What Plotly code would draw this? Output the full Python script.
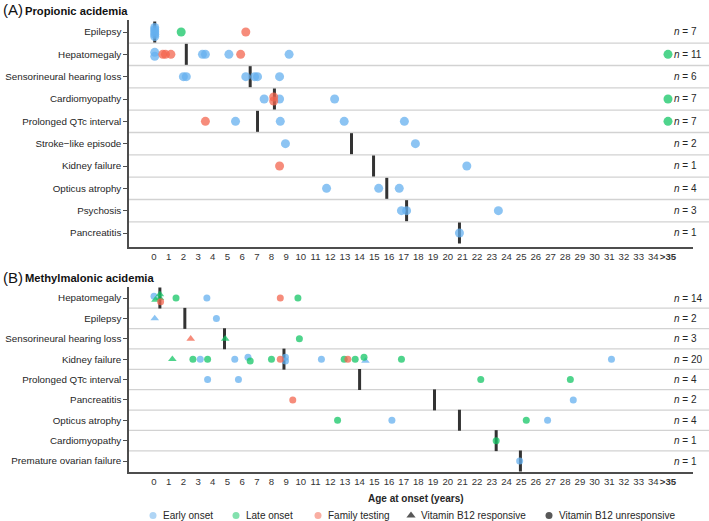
import plotly.graph_objects as go
import pandas as pd

# ---------------- DATA ----------------
x_ticks = list(range(36))
x_ticktext = [str(i) for i in range(35)] + ["<b>&gt;35</b>"]

pa_categories = ["Epilepsy", "Hepatomegaly", "Sensorineural hearing loss", "Cardiomyopathy",
                 "Prolonged QTc interval", "Stroke\u2212like episode", "Kidney failure",
                 "Opticus atrophy", "Psychosis", "Pancreatitis"]
pa_n = [7, 11, 6, 7, 7, 2, 1, 4, 3, 1]
pa_median = [0.05, 2.2, 6.55, 8.2, 7.05, 13.45, 14.95, 15.85, 17.2, 20.8]

pa_early_cat = (["Epilepsy"] * 5 + ["Hepatomegaly"] * 6 + ["Sensorineural hearing loss"] * 6 +
                ["Cardiomyopathy"] * 3 + ["Prolonged QTc interval"] * 4 + ["Stroke\u2212like episode"] * 2 +
                ["Kidney failure"] + ["Opticus atrophy"] * 3 + ["Psychosis"] * 3 + ["Pancreatitis"])
pa_early_age = [0.05, 0.05, 0.05, 0.05, 0.05,
                0.05, 0.05, 3.3, 3.5, 5.1, 9.2,
                2.0, 2.2, 6.25, 6.85, 7.05, 8.55,
                7.5, 8.55, 12.3,
                5.55, 8.6, 12.95, 17.05,
                8.95, 17.8,
                21.3,
                11.75, 15.3, 16.7,
                16.85, 17.2, 23.45,
                20.8]
pa_late_cat = ["Epilepsy", "Hepatomegaly", "Cardiomyopathy", "Prolonged QTc interval"]
pa_late_age = [1.85, 35, 35, 35]
pa_family_cat = ["Epilepsy", "Hepatomegaly", "Hepatomegaly", "Hepatomegaly", "Hepatomegaly",
                 "Cardiomyopathy", "Cardiomyopathy", "Prolonged QTc interval", "Kidney failure"]
pa_family_age = [6.25, 0.6, 0.78, 1.15, 5.9, 8.15, 8.15, 3.5, 8.55]

mma_categories = ["Hepatomegaly", "Epilepsy", "Sensorineural hearing loss", "Kidney failure",
                  "Prolonged QTc interval", "Pancreatitis", "Opticus atrophy", "Cardiomyopathy",
                  "Premature ovarian failure"]
mma_n = [14, 2, 3, 20, 4, 2, 4, 1, 1]
mma_median = [0.4, 2.1, 4.8, 8.85, 14.0, 19.1, 20.8, 23.3, 24.95]

mma_early_cat = ["Hepatomegaly", "Hepatomegaly", "Epilepsy", "Epilepsy"] + ["Kidney failure"] * 8 + \
                ["Prolonged QTc interval"] * 2 + ["Pancreatitis"] + ["Opticus atrophy"] * 2 + \
                ["Premature ovarian failure"]
mma_early_age = [0.0, 3.6, 0.05, 4.25,
                 3.15, 5.5, 6.4, 8.95, 8.95, 11.4, 14.4, 31.15,
                 3.65, 5.75, 28.55, 16.2, 26.8, 24.9]
mma_early_b12 = ["U", "U", "R", "U",
                 "U", "U", "U", "U", "U", "U", "R", "U",
                 "U", "U", "U", "U", "U", "U"]

mma_late_cat = ["Hepatomegaly"] * 5 + ["Sensorineural hearing loss"] * 2 + ["Kidney failure"] * 9 + \
               ["Prolonged QTc interval"] * 2 + ["Opticus atrophy"] * 2 + ["Cardiomyopathy"]
mma_late_age = [0.1, 0.4, 0.4, 1.5, 9.8,
                4.85, 9.9,
                1.25, 2.65, 3.65, 6.55, 8.0, 12.95, 13.7, 14.3, 16.85,
                22.25, 28.35, 12.5, 25.35, 23.3]
mma_late_b12 = ["R", "R", "R", "U", "U",
                "R", "U",
                "R", "U", "U", "U", "U", "U", "U", "U", "U",
                "U", "U", "U", "U", "U"]

mma_family_cat = ["Hepatomegaly", "Hepatomegaly", "Sensorineural hearing loss",
                  "Kidney failure", "Kidney failure", "Pancreatitis"]
mma_family_age = [0.45, 8.6, 2.5, 8.6, 13.2, 9.45]
mma_family_b12 = ["U", "U", "R", "U", "U", "U"]

legend_labels = ["Early onset", "Late onset", "Family testing",
                 "Vitamin B12 responsive", "Vitamin B12 unresponsive"]

# ---------------- STYLE ----------------
W, H = 709, 521
FONT = "Liberation Sans, Arial, sans-serif"
TXT = "#262626"
AXC = "#4d4d4d"
COL = {"early": "#66B0EF", "late": "#14C666", "family": "#F3664F"}
COL_LEG = {"early": "#8DC3F1", "late": "#4FD48C", "family": "#F68C7B"}
OPA = 0.75

X_LEFT, X_RIGHT, X0_PX, X35_PX = 129, 693, 154, 668
ux = (X35_PX - X0_PX) / 35.0
x_range = [-(X0_PX - X_LEFT) / ux, 35 + (X_RIGHT - X35_PX) / ux]

panels = {
    "A": dict(top=20, bottom=247, r0=32, r1=233),
    "B": dict(top=287, bottom=472, r0=298, r1=461),
}


def py(p):
    return 1 - p / H


def yr(panel, ncat):
    p = panels[panel]
    uy = (p["r1"] - p["r0"]) / (ncat - 1)
    return [ncat - 1 + (p["bottom"] - p["r1"]) / uy, -(p["r0"] - p["top"]) / uy]


def jitter(df, thr=0.16, maxspread=0.4, step=0.18):
    df = df.copy()
    df["off"] = 0.0
    for _, g in df.groupby("row"):
        g = g.sort_values("age", kind="stable")
        idx = list(g.index)
        ages = list(g["age"])
        groups, cur = [], [idx[0]]
        for k in range(1, len(idx)):
            if ages[k] - ages[k - 1] < thr:
                cur.append(idx[k])
            else:
                groups.append(cur)
                cur = [idx[k]]
        groups.append(cur)
        for grp in groups:
            kk = len(grp)
            if kk > 1:
                s = min(step, maxspread / (kk - 1))
                for j, i in enumerate(grp):
                    df.loc[i, "off"] = (j - (kk - 1) / 2) * s
    df["y"] = df["row"] + df["off"]
    return df


def build(cats, series):
    frames = []
    for grp, (c, a, b) in series.items():
        frames.append(pd.DataFrame({"row": [cats.index(x) for x in c], "age": a,
                                    "grp": grp, "b12": b if b is not None else ["U"] * len(c)}))
    return jitter(pd.concat(frames, ignore_index=True))


pa_df = build(pa_categories, {"early": (pa_early_cat, pa_early_age, None),
                              "late": (pa_late_cat, pa_late_age, None),
                              "family": (pa_family_cat, pa_family_age, None)})
mma_df = build(mma_categories, {"early": (mma_early_cat, mma_early_age, mma_early_b12),
                                "late": (mma_late_cat, mma_late_age, mma_late_b12),
                                "family": (mma_family_cat, mma_family_age, mma_family_b12)})

fig = go.Figure()

# medians
for cats, med, xa, ya in [(pa_categories, pa_median, "x", "y"), (mma_categories, mma_median, "x2", "y2")]:
    fig.add_trace(go.Scatter(x=med, y=list(range(len(cats))), mode="markers", xaxis=xa, yaxis=ya,
                             marker=dict(symbol="line-ns", size=15, line=dict(width=3, color="#333333")),
                             hoverinfo="skip", showlegend=False))

# points
for df, xa, ya, csize, tsize in [(pa_df, "x", "y", 9, 8), (mma_df, "x2", "y2", 7, 7.5)]:
    for grp in ["early", "late", "family"]:
        for b12, sym, sz in [("U", "circle", csize), ("R", "triangle-up", tsize)]:
            d = df[(df["grp"] == grp) & (df["b12"] == b12)]
            if len(d) == 0:
                continue
            fig.add_trace(go.Scatter(x=d["age"], y=d["y"], mode="markers", xaxis=xa, yaxis=ya,
                                     marker=dict(symbol=sym, size=sz, color=COL[grp], opacity=OPA,
                                                 line=dict(width=0)),
                                     hoverinfo="skip", showlegend=False))

# legend keys on an overlay pixel axis
leg_x = [153, 236, 318, 411, 549]
leg_sym = ["circle", "circle", "circle", "triangle-up", "circle"]
leg_col = [COL_LEG["early"], COL_LEG["late"], COL_LEG["family"], "#111111", "#111111"]
leg_y = 515.5
fig.add_trace(go.Scatter(x=leg_x, y=[leg_y] * 5, mode="markers", xaxis="x3", yaxis="y3",
                         marker=dict(symbol=leg_sym, size=[7, 7, 7, 8, 7], color=leg_col, line=dict(width=0)),
                         hoverinfo="skip", showlegend=False))

shapes, annotations = [], []

for panel, cats, ns, yref in [("A", pa_categories, pa_n, "y"), ("B", mma_categories, mma_n, "y2")]:
    for i in range(len(cats) - 1):
        shapes.append(dict(type="line", xref="paper", yref=yref, x0=X_LEFT / W, x1=1,
                           y0=i + 0.5, y1=i + 0.5, line=dict(color="#d2d2d2", width=1.3), layer="below"))
    for i, n in enumerate(ns):
        annotations.append(dict(xref="paper", yref=yref, x=672 / W, y=i, xanchor="left", yanchor="middle",
                                text=f"<i>n</i> = {n}", showarrow=False,
                                font=dict(family=FONT, size=10, color=TXT)))

# panel titles
for lab, title, ypx in [("(A)", "Propionic acidemia", 10), ("(B)", "Methylmalonic acidemia", 277)]:
    annotations.append(dict(xref="paper", yref="paper", x=0.5 / W, y=py(ypx), xanchor="left", yanchor="middle",
                            text=lab, showarrow=False, font=dict(family=FONT, size=15, color="#111111")))
    annotations.append(dict(xref="paper", yref="paper", x=22.5 / W, y=py(ypx + 0.5), xanchor="left",
                            yanchor="middle", text=f"<b>{title}</b>", showarrow=False,
                            font=dict(family=FONT, size=11.2, color="#111111")))

annotations.append(dict(xref="paper", yref="paper", x=416 / W, y=py(498), xanchor="center", yanchor="middle",
                        text="<b>Age at onset (years)</b>", showarrow=False,
                        font=dict(family=FONT, size=10, color=TXT)))

for tx, lab in zip([161, 244, 326, 419, 557], legend_labels):
    annotations.append(dict(xref="paper", yref="paper", x=tx / W, y=py(leg_y), xanchor="left",
                            yanchor="middle", text=lab, showarrow=False,
                            font=dict(family=FONT, size=10, color=TXT)))

xdom = [X_LEFT / W, X_RIGHT / W]
xaxis_common = dict(domain=xdom, range=x_range, tickmode="array", tickvals=x_ticks, ticktext=x_ticktext,
                    showgrid=False, zeroline=False, showline=True, linecolor=AXC, linewidth=1.5,
                    ticks="", tickangle=0, tickfont=dict(family=FONT, size=9.6, color="#333333"),
                    fixedrange=True)


def yaxis_common(panel, cats, anchor):
    p = panels[panel]
    return dict(domain=[py(p["bottom"]), py(p["top"])], range=yr(panel, len(cats)), anchor=anchor,
                tickmode="array", tickvals=list(range(len(cats))), ticktext=cats,
                showgrid=False, zeroline=False, showline=True, linecolor=AXC, linewidth=1.5,
                ticks="outside", ticklen=4, tickwidth=1, tickcolor=AXC,
                tickfont=dict(family=FONT, size=9.8, color=TXT), fixedrange=True)


fig.update_layout(
    width=W, height=H, margin=dict(l=0, r=0, t=0, b=0),
    paper_bgcolor="white", plot_bgcolor="rgba(0,0,0,0)",
    xaxis=dict(anchor="y", **xaxis_common),
    xaxis2=dict(anchor="y2", **xaxis_common),
    yaxis=yaxis_common("A", pa_categories, "x"),
    yaxis2=yaxis_common("B", mma_categories, "x2"),
    xaxis3=dict(domain=[0, 1], range=[0, W], visible=False, anchor="y3", fixedrange=True),
    yaxis3=dict(domain=[0, 1], range=[H, 0], visible=False, anchor="x3", fixedrange=True),
    shapes=shapes, annotations=annotations, showlegend=False,
    font=dict(family=FONT, color=TXT),
)

fig.write_html("out.html", config={"displayModeBar": False},
               post_script="document.body.style.margin='0';document.body.style.overflow='hidden';")
